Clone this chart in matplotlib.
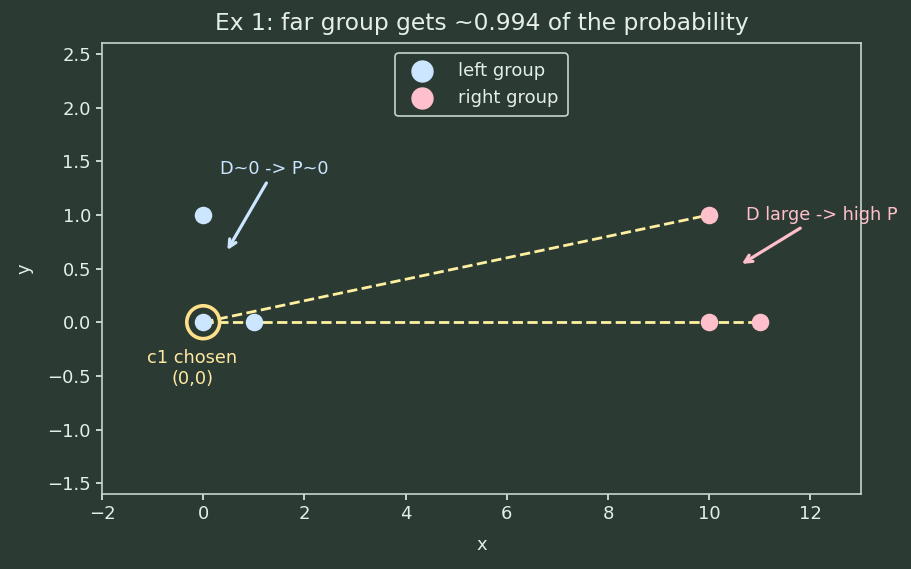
import matplotlib
matplotlib.use("Agg")
import matplotlib.pyplot as plt

left_x = [0, 0, 1]
left_y = [0, 1, 0]
right_x = [10, 10, 11]
right_y = [0, 1, 0]
chosen = (0, 0)
links = [(10, 1), (11, 0)]

BG = "#2b3b34"
FG = "#e6eee8"
SP = "#c5d5c9"
BLUE = "#cce6ff"
PINK = "#ffc0cb"
YEL = "#fff0a0"

fig = plt.figure(figsize=(9.11, 5.69), dpi=100, facecolor=BG)
ax = fig.add_axes([0.112, 0.132, 0.833, 0.792], facecolor=BG)

for (tx, ty) in links:
    ax.plot([chosen[0], tx], [chosen[1], ty], ls="--", color=YEL, lw=2.0, zorder=1,
            dashes=(3.7, 1.6))

ax.scatter(left_x, left_y, s=135, color=BLUE, label="left group", zorder=3)
ax.scatter(right_x, right_y, s=135, color=PINK, label="right group", zorder=3)
ax.scatter([chosen[0]], [chosen[1]], s=560, facecolors="none", edgecolors="#ffe08a",
           linewidths=2.6, zorder=4)

ax.annotate("D~0 -> P~0", xy=(0.45, 0.65), xytext=(0.34, 1.43), color=BLUE, fontsize=12.7,
            va="center", ha="left",
            arrowprops=dict(arrowstyle="->", color=BLUE, lw=2.3, mutation_scale=13))
ax.annotate("D large -> high P", xy=(10.6, 0.53), xytext=(10.73, 1.0), color=PINK, fontsize=12.7,
            va="center", ha="left",
            arrowprops=dict(arrowstyle="->", color=PINK, lw=2.3, mutation_scale=13))
ax.text(-0.22, -0.43, "c1 chosen\n(0,0)", color="#ffe9a0", fontsize=12.8, ha="center", va="center")

ax.set_xlim(-2, 13)
ax.set_ylim(-1.6, 2.6)
ax.set_xticks(range(-2, 14, 2))
ax.set_yticks([-1.5, -1.0, -0.5, 0.0, 0.5, 1.0, 1.5, 2.0, 2.5])
ax.set_xlabel("x", color=FG, fontsize=13, labelpad=9.5)
ax.set_ylabel("y", color=FG, fontsize=13, labelpad=10)
ax.set_title("Ex 1: far group gets ~0.994 of the probability", color=FG, fontsize=16.8, pad=9.5)
ax.tick_params(colors=FG, labelsize=13, length=4.5, width=1.2)
for sp in ax.spines.values():
    sp.set_color(SP)
    sp.set_linewidth(1.2)

leg = ax.legend(loc="upper center", fontsize=13, facecolor=BG, edgecolor=SP, labelcolor=FG,
                framealpha=1, borderaxespad=0.55, markerscale=1.3, borderpad=0.5,
                handletextpad=1.0)
leg.get_frame().set_linewidth(1.2)

fig.savefig("out.png", dpi=100, facecolor=BG)
